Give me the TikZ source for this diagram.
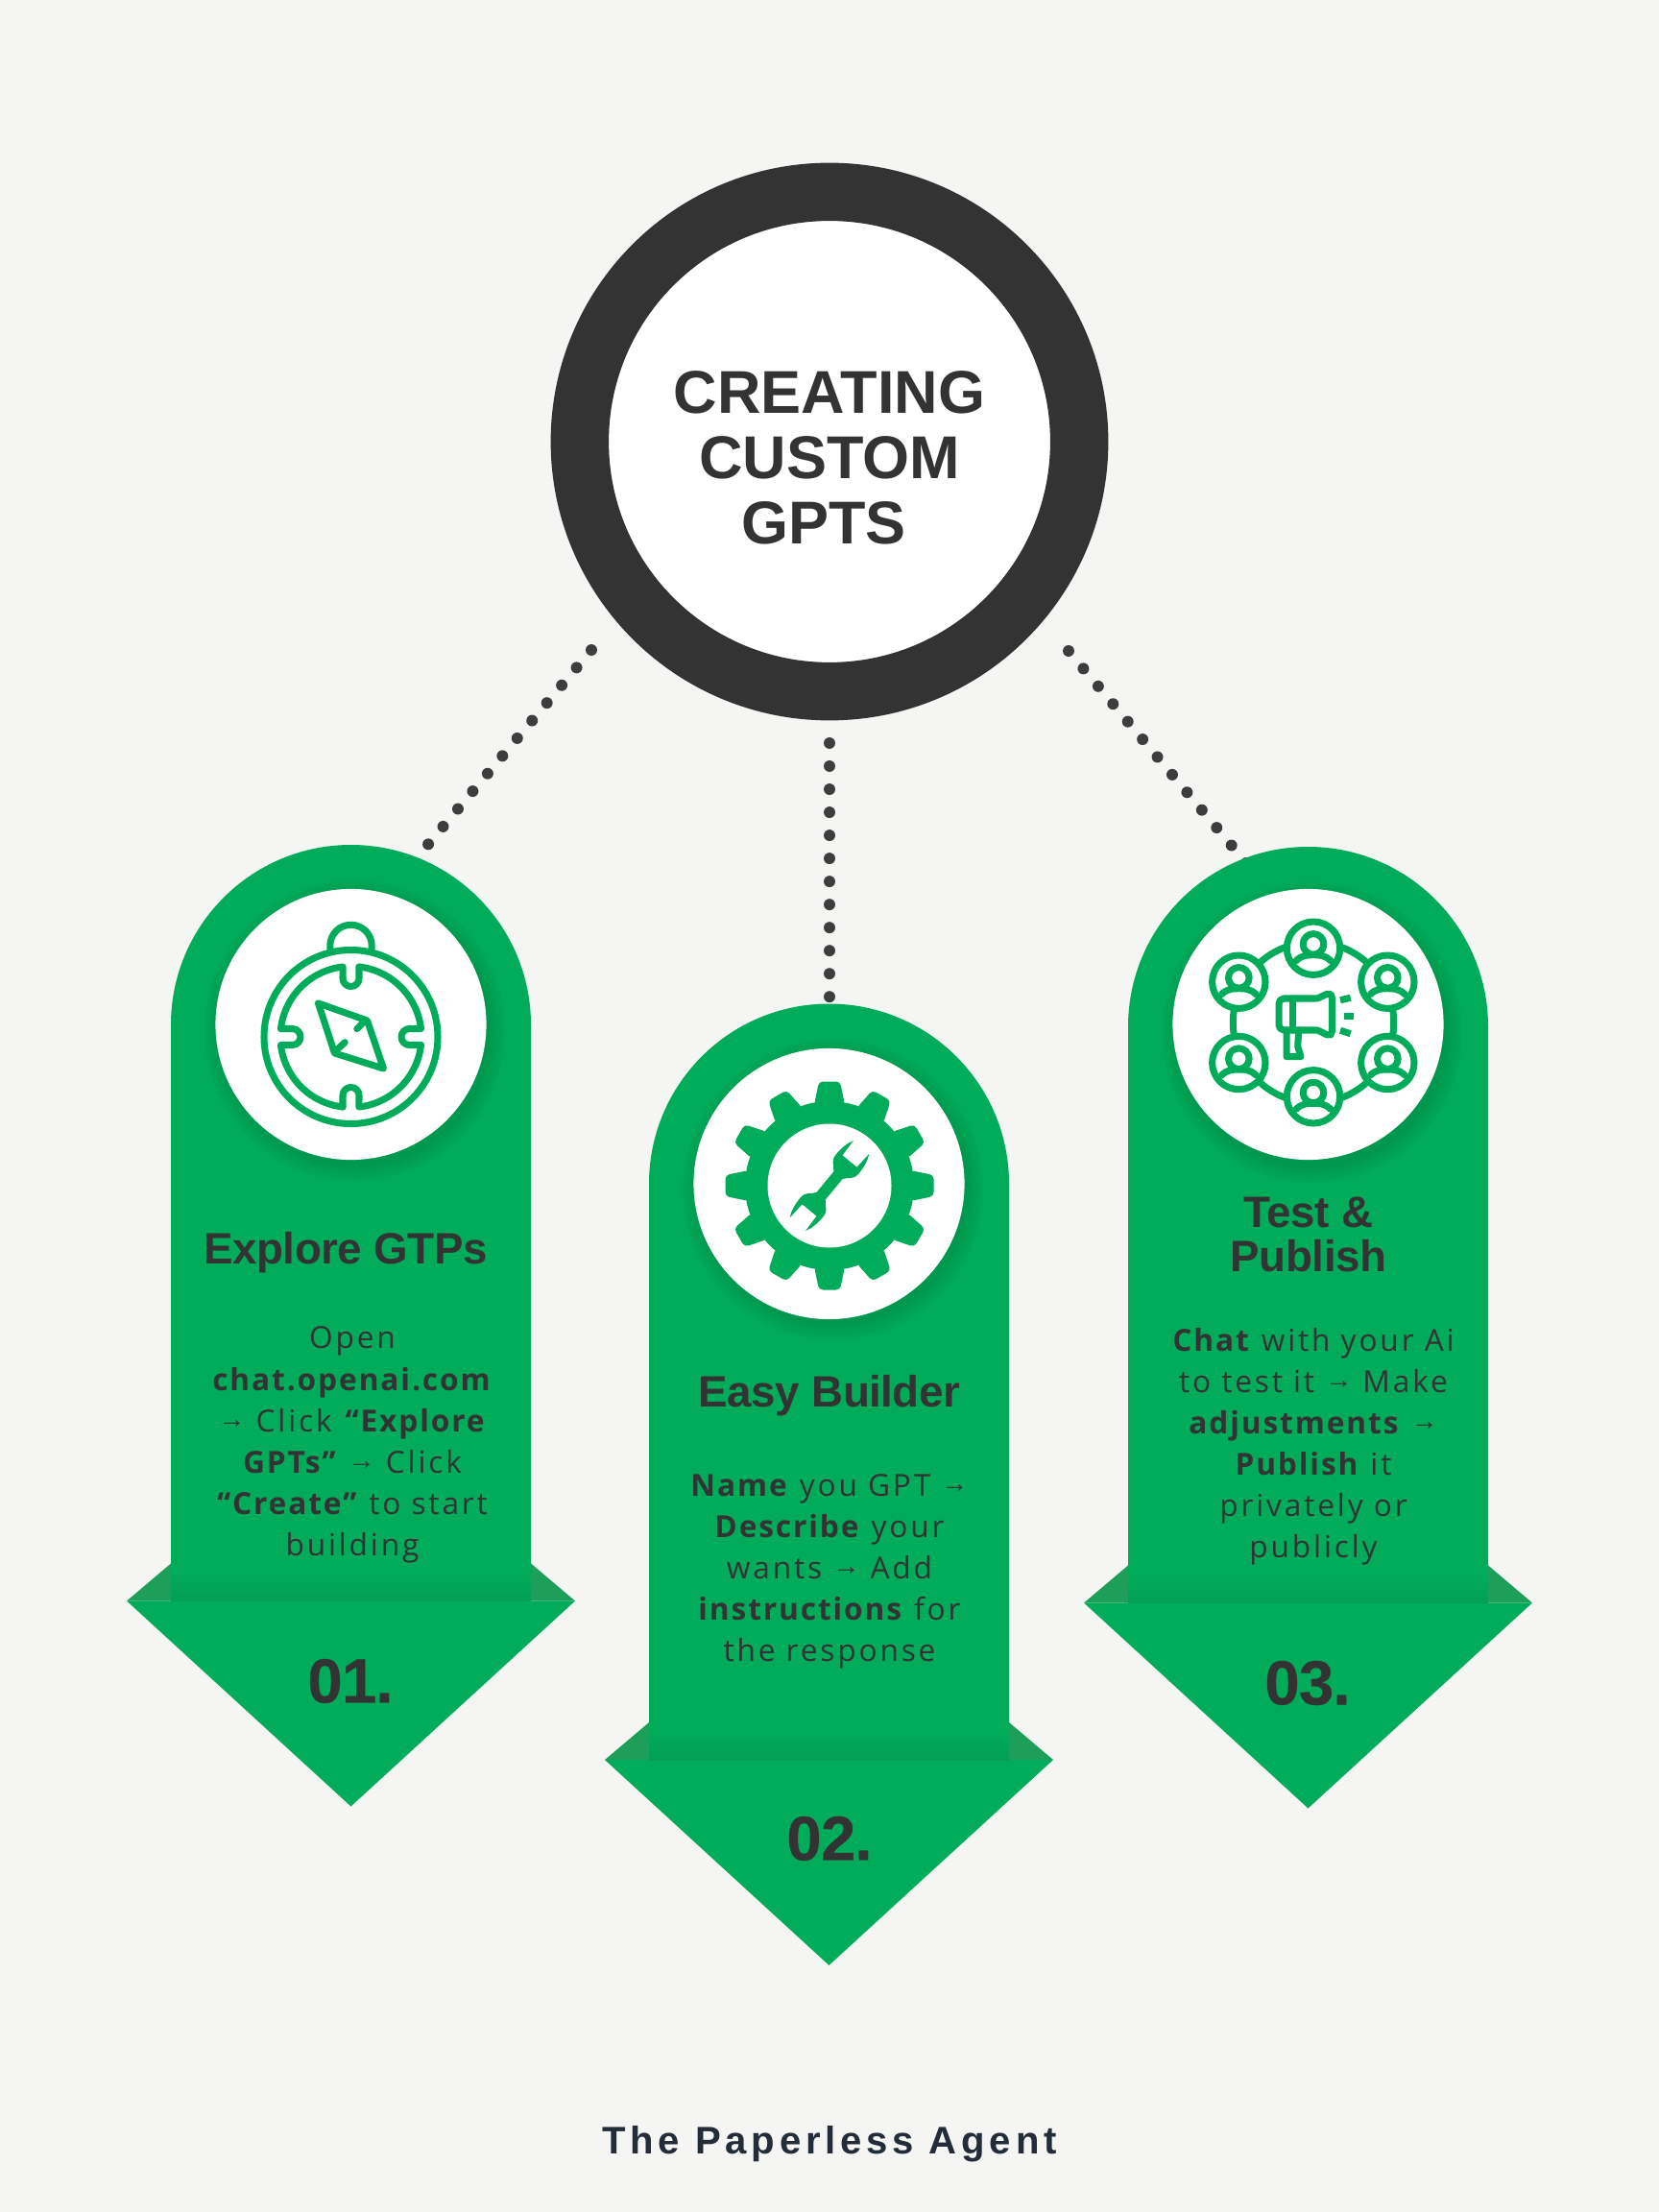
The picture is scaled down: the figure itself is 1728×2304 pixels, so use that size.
\documentclass[tikz,border=0pt]{standalone}
\usepackage{fontspec}
\setmainfont{Liberation Sans}
\newfontfamily\bodyfont[LetterSpace=9, BoldFeatures={LetterSpace=6}]{Open Sans}
\newfontfamily\headfont[LetterSpace=-1]{Liberation Sans}
\newfontfamily\numfont[LetterSpace=-1, FakeBold=0.5]{Liberation Sans}
\newfontfamily\footfont[LetterSpace=12]{Liberation Sans}
\newfontfamily\arrowfont{Liberation Sans}
\newcommand{\arw}{\raisebox{1.1pt}{\arrowfont\fontsize{8pt}{8pt}\selectfont →}}
\definecolor{paper}{HTML}{F5F5F3}
\definecolor{ink}{HTML}{333333}
\definecolor{dotgrey}{HTML}{3D3D3D}
\definecolor{cardgreen}{HTML}{00AB59}
\definecolor{wingshade}{HTML}{1E9F59}
\definecolor{stripshade}{HTML}{049F55}
\definecolor{footink}{HTML}{222D39}
\tikzset{
  hubring/.style = {draw=ink, fill=white, circle, line width=17.2pt, minimum size=5.2cm, inner sep=0pt},
  dotline/.style = {draw=dotgrey, line width=3.4pt, line cap=round, dash pattern=on 0pt off 6.83pt},
  disc/.style = {fill=white, circle, minimum size=2.82cm, inner sep=0pt},
  iconline/.style = {draw=cardgreen, line width=2pt, line cap=round, line join=round},
  titletext/.style = {text=ink, align=center, font={\fontsize{17.9pt}{19.35pt}\bfseries\selectfont}},
  headtext/.style = {text=ink, align=center, font={\fontsize{13pt}{13.1pt}\headfont\bfseries}},
  bodytext/.style = {text=ink, align=center, font={\fontsize{9pt}{12.25pt}\bodyfont}},
  numtext/.style = {text=ink, font={\fontsize{18.5pt}{18.5pt}\numfont\bfseries}},
}
% one green card, origin at the centre of its disc
\newcommand{\cardshape}{
  \fill[cardgreen] (-187.5,0) arc[start angle=180, end angle=360, radius=187.5] -- (187.5,600) -- (-187.5,600) -- cycle;
  \fill[wingshade] (-187.5,561) -- (-233.5,600) -- (-187.5,600) -- cycle;
  \fill[wingshade] (187.5,561) -- (233.5,600) -- (187.5,600) -- cycle;
  \fill[cardgreen] (-233.5,600) -- (233.5,600) -- (0,814) -- cycle;
  \shade[top color=cardgreen, bottom color=stripshade] (-187.5,572) rectangle (187.5,600);
  \foreach \s in {16,14,...,0}
    \fill[black, opacity=.011] (4,6) circle[radius=141+\s];
}
\begin{document}
\begin{tikzpicture}[x=0.01cm, y=-0.01cm]
  \useasboundingbox (0,0) rectangle (1728,2304);
  \fill[paper] (0,0) rectangle (1728,2304);
  %
  \coordinate (hubL) at (616,677);
  \coordinate (hubM) at (864,774);
  \coordinate (hubR) at (1113,678);
  \coordinate (topL) at (445.5,880);
  \coordinate (topM) at (864,1039);
  \coordinate (topR) at (1299,900);
  \draw[dotline] (hubL) -- (topL);
  \draw[dotline] (hubM) -- (topM);
  \draw[dotline] (hubR) -- (topR);
  %
  \node[hubring] (hub) at (864,460) {};
  \node[titletext] (title) at (864,477) {CREATING\\CUSTOM\\GPTS\hspace*{3.4pt}};
  %
  \begin{scope}[shift={(365.5,1067.5)}]
    \cardshape
  \end{scope}
  \begin{scope}[shift={(863.5,1233)}]
    \cardshape
  \end{scope}
  \begin{scope}[shift={(1362.5,1069.5)}]
    \cardshape
  \end{scope}
  \node[disc] (discA) at (365.5,1067) {};
  \node[disc] (discB) at (863.5,1233) {};
  \node[disc] (discC) at (1362.5,1067) {};
  %
  % compass
  \begin{scope}[shift={(365.5,1080)}]
    \draw[iconline] (0,0) circle[radius=90.5];
    \draw[iconline] (-21.7,-92) -- (-21.7,-95) arc[start angle=180, end angle=360, radius=21.7] -- (21.7,-92);
    \foreach \a in {0,90,180,270}
      \draw[iconline, rotate=\a] (6.6:73.5) arc[start angle=6.6, end angle=83.4, radius=73.5]
        -- (8.5,61) arc[start angle=0, end angle=-180, radius=8.5] -- (-8.5,73);
    \draw[iconline] (-34,-35) -- (17,-17) -- (34,33) -- (-17,17) -- cycle;
    \draw[iconline] (6.3,-8.3) -- (13,-15);
    \draw[iconline] (-12.7,11.7) -- (-6.3,5.7);
  \end{scope}
  %
  % gear with wrench
  \begin{scope}[shift={(864,1235)}]
    \foreach \a in {0,30,...,330}
      \fill[cardgreen, rotate=\a, rounded corners=1.2pt] (-16,-84) -- (-11,-108.5) -- (11,-108.5) -- (16,-84) -- cycle;
    \fill[cardgreen] (0,0) circle[radius=88];
    \fill[white] (0,0) circle[radius=64.5];
    \fill[cardgreen, rotate=50.5] (14,-6) .. controls (20,-10) and (21,-15.5) .. (28,-15.5)
      .. controls (38,-15.5) and (46,-14) .. (52,-10.7) -- (33,-9.7) -- (33,9.7) -- (52,10.7)
      .. controls (46,14) and (38,15.5) .. (28,15.5) .. controls (21,15.5) and (20,10) .. (14,6)
      -- (-14,6) .. controls (-20,10) and (-21,15.5) .. (-28,15.5)
      .. controls (-38,15.5) and (-46,14) .. (-52,10.7) -- (-33,9.7) -- (-33,-9.7) -- (-52,-10.7)
      .. controls (-46,-14) and (-38,-15.5) .. (-28,-15.5) .. controls (-21,-15.5) and (-20,-10) .. (-14,-6) -- cycle;
  \end{scope}
  %
  % megaphone in a ring of people
  \begin{scope}[shift={(1368,1065)}]
    \draw[iconline] (0,0) circle[radius=83.7];
    \foreach \pX/\pY in {0/-77.3, -77.7/-42.3, 77.3/-42.3, -77.7/42, 77.3/42, 0/77.3} {
      \begin{scope}[shift={(\pX,\pY)}]
        \draw[iconline, fill=white] (0,0) circle[radius=27.7];
        \draw[iconline] (-18,13) .. controls (-12,7) and (-6,7) .. (0,7) .. controls (6,7) and (12,7) .. (18,13);
        \draw[iconline, fill=white] (0,-4.3) circle[radius=10.8];
      \end{scope}
    }
    \draw[iconline, rounded corners=1.5pt] (19.3,-31.7) .. controls (10,-28) and (5,-25) .. (-2,-25) -- (-36,-25) -- (-36,8) -- (-2,8) .. controls (5,8) and (10,11) .. (19.3,15) -- cycle;
    \draw[iconline] (-21.3,-25) -- (-21.3,8);
    \draw[iconline] (-28,8) -- (-28,35.7) -- (-13,35.7) -- (-16.3,25) -- (-15.3,8);
    \draw[iconline, line cap=butt] (28,-23.3) -- (38.7,-25.7);
    \draw[iconline, line cap=butt] (32,-6.7) -- (42,-6.7);
    \draw[iconline, line cap=butt] (28,8.3) -- (38.7,11.7);
  \end{scope}
  %
  \node[headtext] (headA) at (360,1305) {Explore GTPs};
  \node[headtext] (headB) at (864,1454) {Easy Builder};
  \node[headtext] (headC) at (1363,1286) {Test \&\\Publish};
  %
  \node[bodytext] (bodyA) at (367,1505) {Open\\\textbf{chat.openai.com}\\\arw{} Click \textbf{“Explore}\\\textbf{GPTs”} \arw{} Click\\\textbf{“Create”} to start\\building};
  \node[bodytext] (bodyB) at (864,1637) {\textbf{Name} you GPT \arw\\\textbf{Describe} your\\wants \arw{} Add\\\textbf{instructions} for\\the response};
  \node[bodytext] (bodyC) at (1368,1507) {\textbf{Chat} with your Ai\\to test it \arw{} Make\\\textbf{adjustments} \arw\\\textbf{Publish} it\\privately or\\publicly};
  %
  \node[numtext] (numA) at (365,1751) {01.};
  \node[numtext] (numB) at (864,1915) {02.};
  \node[numtext] (numC) at (1362,1753) {03.};
  %
  \node[text=footink, font={\fontsize{11.4pt}{11.4pt}\footfont\bfseries}] (brand) at (864,2233) {The Paperless Agent};
\end{tikzpicture}
\end{document}
